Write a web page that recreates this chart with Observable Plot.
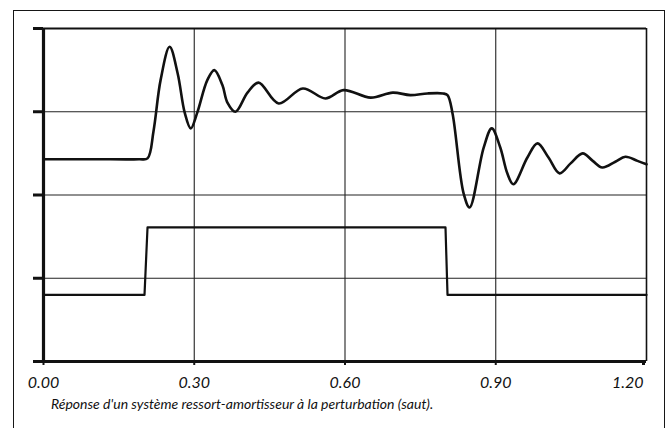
<!DOCTYPE html>
<html>
<head>
<meta charset="utf-8">
<script src="https://cdn.jsdelivr.net/npm/d3@7"></script>
<script src="https://cdn.jsdelivr.net/npm/@observablehq/plot@0.6"></script>
<style>
  html, body { margin: 0; padding: 0; background: #fff; width: 669px; height: 428px; overflow: hidden; }
  #frame { position: absolute; left: 13px; top: 10px; width: 652px; height: 440px; border: 1.5px solid #161616; box-sizing: border-box; }
  #chart { position: absolute; left: 0; top: 0; }
  figure { margin: 0; }
  figcaption { margin: 4px 0 0 51px; font-family: Lato, "Open Sans", sans-serif; font-style: italic; font-size: 14px; color: #111; line-height: 16px; }
  #chart svg text, #chart svg tspan { font-style: italic !important; font-family: Lato, "Open Sans", sans-serif !important; }
</style>
</head>
<body>
<div id="frame"></div>
<div id="chart"></div>
<script>
// Response of the spring-damper system (time in s, value in grid units)
const respT = [0, 0.100, 0.190, 0.207, 0.219, 0.233, 0.251, 0.267, 0.281, 0.293, 0.306, 0.326, 0.340, 0.356, 0.366, 0.382, 0.406, 0.428, 0.468, 0.516, 0.561, 0.597, 0.651, 0.695, 0.730, 0.764, 0.795, 0.804, 0.814, 0.836, 0.848, 0.876, 0.892, 0.909, 0.923, 0.935, 0.963, 0.983, 1.005, 1.027, 1.049, 1.073, 1.093, 1.112, 1.138, 1.158, 1.182, 1.200];
const respV = [2.43, 2.43, 2.43, 2.44, 2.77, 3.38, 3.78, 3.46, 2.99, 2.80, 2.99, 3.38, 3.50, 3.32, 3.11, 3.00, 3.23, 3.35, 3.10, 3.28, 3.16, 3.26, 3.17, 3.23, 3.20, 3.22, 3.22, 3.20, 2.98, 2.02, 1.85, 2.57, 2.80, 2.57, 2.26, 2.13, 2.45, 2.62, 2.45, 2.26, 2.38, 2.50, 2.41, 2.33, 2.40, 2.46, 2.41, 2.37];
// Step disturbance
const stepT = [0, 0.201, 0.207, 0.800, 0.804, 1.200];
const stepV = [0.80, 0.80, 1.61, 1.61, 0.80, 0.80];
// Axes
const xTicks = [0, 0.3, 0.6, 0.9, 1.2];
const yTicks = [0, 1, 2, 3, 4];
const xGrid = [0.3, 0.6, 0.9];
const yGrid = [1, 2, 3];
const caption = "Réponse d'un système ressort-amortisseur à la perturbation (saut).";

const response = respT.map((t, i) => ({t, v: respV[i]}));
const step = stepT.map((t, i) => ({t, v: stepV[i]}));
const fmt = d3.format(".2f");
const font = {fontSize: 16, fontStyle: "italic", fontFamily: "Lato, 'Open Sans', sans-serif"};

const chart = Plot.plot({
  width: 669,
  height: 392,
  marginLeft: 43,
  marginRight: 23,
  marginTop: 28,
  marginBottom: 31,
  style: {fontFamily: "Lato, 'Open Sans', sans-serif", fontSize: "16px", color: "#111", background: "transparent", overflow: "visible"},
  x: {domain: [0, 1.2]},
  y: {domain: [0, 4]},
  caption,
  marks: [
    Plot.ruleX(xGrid, {stroke: "#222", strokeWidth: 1.1}),
    Plot.ruleY(yGrid, {stroke: "#222", strokeWidth: 1.1}),
    Plot.ruleY([4], {stroke: "#111", strokeWidth: 2}),
    Plot.ruleX([1.2], {stroke: "#111", strokeWidth: 1.6}),
    Plot.line(step, {x: "t", y: "v", stroke: "#111", strokeWidth: 2.2}),
    Plot.line(response, {x: "t", y: "v", stroke: "#111", strokeWidth: 2.6, curve: "catmull-rom"}),
    Plot.ruleX([0], {stroke: "#111", strokeWidth: 3.2}),
    Plot.ruleY([0], {stroke: "#111", strokeWidth: 3.2}),
    Plot.axisY({ticks: yTicks, tickSize: 10, strokeWidth: 3, tickFormat: () => "", label: null}),
    Plot.axisX({ticks: xTicks.slice(0, 4), tickSize: 4, strokeWidth: 2, tickPadding: 11, tickFormat: fmt, label: null, ...font}),
    Plot.axisX({ticks: xTicks.slice(4), tickSize: 4, strokeWidth: 3, tickPadding: 11, tickFormat: fmt, textAnchor: "end", dx: -3, label: null, ...font})
  ]
});
document.getElementById("chart").appendChild(chart);
</script>
</body>
</html>
